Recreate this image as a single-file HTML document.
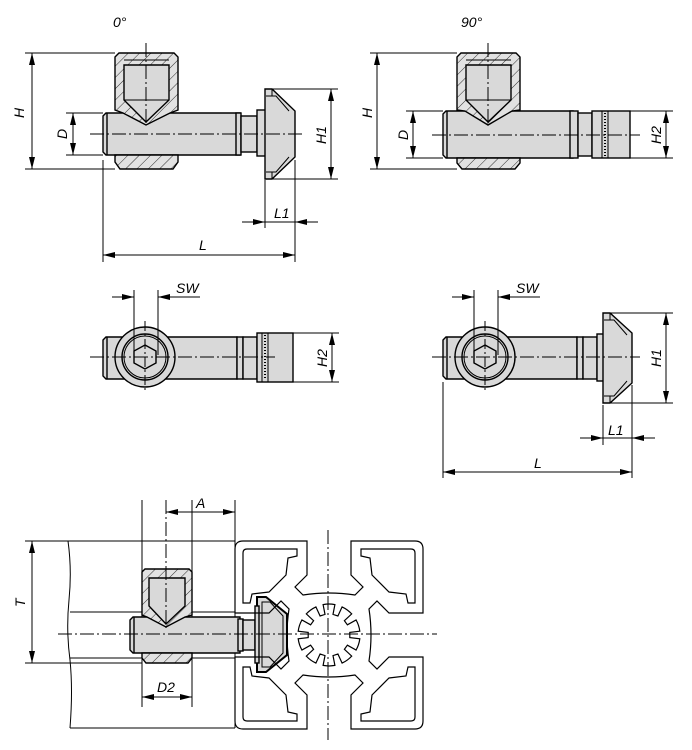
<!DOCTYPE html>
<html><head><meta charset="utf-8">
<style>
html,body{margin:0;padding:0;background:#fff;}
svg{display:block;}
text{font-family:"Liberation Sans",sans-serif;font-style:italic;font-size:14px;fill:#000;}
</style></head><body>
<svg width="692" height="750" viewBox="0 0 692 750" xmlns="http://www.w3.org/2000/svg">
<defs>
<marker id="a" viewBox="0 0 12 6" refX="12" refY="3" markerWidth="12" markerHeight="6" orient="auto-start-reverse" markerUnits="userSpaceOnUse"><path d="M0,0 L12,3 L0,6 z" fill="#000"/></marker>
<pattern id="h" width="8" height="8" patternUnits="userSpaceOnUse" patternTransform="rotate(45)"><rect width="8" height="8" fill="#e2e2e2"/><line x1="0" y1="0" x2="0" y2="8" stroke="#000" stroke-width="0.8"/></pattern>
</defs>
<g fill="none" stroke="#000" stroke-width="1">

<!-- ===== VIEW 1 (0°) ===== -->
<g stroke-width="1.4">
<path d="M103,116 L106,113 L240,113 L240,155 L106,155 L103,152 Z" fill="#d9d9d9"/>
<line x1="107" y1="113" x2="107" y2="155"/>
<rect x="236" y="113" width="5" height="42" fill="#d9d9d9"/>
<rect x="241" y="116" width="16" height="36" fill="#d9d9d9"/>
<rect x="257" y="110" width="9" height="46" fill="#d9d9d9"/>
<path d="M265,89 L272,89 L295,111 L295,157 L272,179 L265,179 Z" fill="#d9d9d9"/>
<path d="M272,89 L272,96 M272,172 L272,179 M266,96 L276,96 L289,111 M266,172 L276,172 L289,157" stroke-width="1"/>
<path d="M115,57 L119,53 L174,53 L178,57 L178,110 L170,113 L146,125 L123,113 L115,110 Z" fill="url(#h)"/>
<path d="M124,65 L169,65 L169,100 L146,122 L124,100 Z" fill="#d9d9d9"/>
<path d="M124,60 L169,60 M124,100 L169,100" stroke-width="1"/>
<path d="M115,155 L178,155 L178,162 L173,169 L120,169 L115,162 Z" fill="url(#h)"/>
</g>
<path d="M90,134 L305,134" stroke-dasharray="14,3,2,3"/>
<path d="M146,43 L146,125" stroke-dasharray="14,3,2,3"/>
<path d="M25,53 L115,53 M25,169 L115,169"/>
<line x1="32" y1="53" x2="32" y2="169" marker-start="url(#a)" marker-end="url(#a)"/>
<path d="M66,113 L103,113 M66,155 L103,155"/>
<line x1="73" y1="113" x2="73" y2="155" marker-start="url(#a)" marker-end="url(#a)"/>
<path d="M272,89 L338,89 M272,179 L338,179"/>
<line x1="331" y1="89" x2="331" y2="179" marker-start="url(#a)" marker-end="url(#a)"/>
<path d="M103,160 L103,262 M265,180 L265,228 M295,160 L295,262"/>
<line x1="242" y1="222" x2="265" y2="222" marker-end="url(#a)"/>
<line x1="318" y1="222" x2="295" y2="222" marker-end="url(#a)"/>
<line x1="265" y1="222" x2="295" y2="222"/>
<line x1="103" y1="255" x2="295" y2="255" marker-start="url(#a)" marker-end="url(#a)"/>

<!-- ===== VIEW 2 (90°) ===== -->
<g stroke-width="1.4">
<path d="M443,114 L446,111 L573,111 L573,158 L446,158 L443,155 Z" fill="#d9d9d9"/>
<line x1="447" y1="111" x2="447" y2="158"/>
<rect x="570" y="111" width="8" height="47" fill="#d9d9d9"/>
<rect x="578" y="113" width="14" height="43" fill="#d9d9d9"/>
<rect x="592" y="111" width="38" height="47" fill="#d9d9d9"/>
<path d="M602,111 L602,158 M608,111 L608,158" stroke-width="1"/>
<path d="M605,113 L605,156" stroke-dasharray="1,2" stroke-width="2"/>
<path d="M457,57 L461,53 L516,53 L520,57 L520,110 L512,111 L488,125 L465,111 L457,110 Z" fill="url(#h)"/>
<path d="M466,65 L511,65 L511,100 L488,122 L466,100 Z" fill="#d9d9d9"/>
<path d="M466,60 L511,60 M466,100 L511,100" stroke-width="1"/>
<path d="M457,158 L520,158 L520,163 L515,169 L462,169 L457,163 Z" fill="url(#h)"/>
</g>
<path d="M432,135 L640,135" stroke-dasharray="14,3,2,3"/>
<path d="M488,43 L488,125" stroke-dasharray="14,3,2,3"/>
<path d="M370,53 L457,53 M370,169 L457,169"/>
<line x1="377" y1="53" x2="377" y2="169" marker-start="url(#a)" marker-end="url(#a)"/>
<path d="M406,111 L443,111 M406,158 L443,158"/>
<line x1="413" y1="111" x2="413" y2="158" marker-start="url(#a)" marker-end="url(#a)"/>
<path d="M630,111 L673,111 M630,158 L673,158"/>
<line x1="666" y1="111" x2="666" y2="158" marker-start="url(#a)" marker-end="url(#a)"/>

<!-- ===== VIEW 3 ===== -->
<g stroke-width="1.4">
<path d="M103,340 L106,337 L237,337 L237,379 L106,379 L103,376 Z" fill="#d9d9d9"/>
<line x1="107" y1="337" x2="107" y2="379"/>
<rect x="237" y="337" width="6" height="42" fill="#d9d9d9"/>
<rect x="243" y="337" width="14" height="42" fill="#d9d9d9"/>
<rect x="257" y="333" width="36" height="49" fill="#d9d9d9"/>
<path d="M262,333 L262,382 M268,333 L268,382" stroke-width="1"/>
<path d="M265,335 L265,380" stroke-dasharray="1,2" stroke-width="2"/>
<circle cx="145" cy="357" r="30" fill="#d9d9d9"/>
<circle cx="145" cy="357" r="23"/>
<circle cx="145" cy="357" r="21" stroke-width="1"/>
<path d="M145,345 L156,351 L156,363 L145,369 L134,363 L134,351 Z" fill="#d9d9d9"/>
</g>
<path d="M90,357 L275,357" stroke-dasharray="14,3,2,3"/>
<path d="M145,321 L145,393" stroke-dasharray="10,3,2,3"/>
<path d="M134,290 L134,355 M158,290 L158,355"/>
<line x1="112" y1="297" x2="134" y2="297" marker-end="url(#a)"/>
<line x1="180" y1="297" x2="158" y2="297" marker-end="url(#a)"/>
<line x1="158" y1="297" x2="200" y2="297"/>
<path d="M293,333 L339,333 M293,382 L339,382"/>
<line x1="332" y1="333" x2="332" y2="382" marker-start="url(#a)" marker-end="url(#a)"/>

<!-- ===== VIEW 4 ===== -->
<g stroke-width="1.4">
<path d="M443,340 L446,337 L577,337 L577,379 L446,379 L443,376 Z" fill="#d9d9d9"/>
<line x1="447" y1="337" x2="447" y2="379"/>
<rect x="577" y="337" width="6" height="42" fill="#d9d9d9"/>
<rect x="583" y="337" width="14" height="42" fill="#d9d9d9"/>
<rect x="597" y="334" width="7" height="47" fill="#d9d9d9"/>
<path d="M603,313 L610,313 L632,333 L632,383 L610,403 L603,403 Z" fill="#d9d9d9"/>
<path d="M610,313 L610,320 M610,396 L610,403 M604,320 L614,320 L627,335 M604,396 L614,396 L627,381" stroke-width="1"/>
<circle cx="485" cy="357" r="30" fill="#d9d9d9"/>
<circle cx="485" cy="357" r="23"/>
<circle cx="485" cy="357" r="21" stroke-width="1"/>
<path d="M485,345 L496,351 L496,363 L485,369 L474,363 L474,351 Z" fill="#d9d9d9"/>
</g>
<path d="M432,357 L640,357" stroke-dasharray="14,3,2,3"/>
<path d="M485,321 L485,393" stroke-dasharray="10,3,2,3"/>
<path d="M474,290 L474,355 M498,290 L498,355"/>
<line x1="452" y1="297" x2="474" y2="297" marker-end="url(#a)"/>
<line x1="520" y1="297" x2="498" y2="297" marker-end="url(#a)"/>
<line x1="498" y1="297" x2="540" y2="297"/>
<path d="M610,313 L673,313 M610,403 L673,403"/>
<line x1="666" y1="313" x2="666" y2="403" marker-start="url(#a)" marker-end="url(#a)"/>
<path d="M443,382 L443,478 M603,405 L603,445 M632,385 L632,478"/>
<line x1="580" y1="438" x2="603" y2="438" marker-end="url(#a)"/>
<line x1="655" y1="438" x2="632" y2="438" marker-end="url(#a)"/>
<line x1="603" y1="438" x2="632" y2="438"/>
<line x1="443" y1="472" x2="632" y2="472" marker-start="url(#a)" marker-end="url(#a)"/>

<!-- ===== VIEW 5 ===== -->
<path d="M68,541 L235,541 M70,728 L235,728 M235,541 L235,728 M70,612 L235,612 M70,658 L235,658"/>
<path d="M68,541 Q72,570 69,600 Q66,630 70,660 Q73,690 70,728"/>
<path d="M142,500 L142,707 M192,500 L192,707 M235,500 L235,541"/>
<path d="M25,541 L68,541 M25,663 L142,663"/>
<line x1="32" y1="541" x2="32" y2="663" marker-start="url(#a)" marker-end="url(#a)"/>
<line x1="166" y1="512" x2="235" y2="512" marker-start="url(#a)" marker-end="url(#a)"/>
<line x1="142" y1="697" x2="192" y2="697" marker-start="url(#a)" marker-end="url(#a)"/>
<g stroke-width="1.4">
<path d="M130,620 L133,617 L240,617 L240,653 L133,653 L130,650 Z" fill="#d9d9d9"/>
<line x1="134" y1="617" x2="134" y2="653"/>
<rect x="238" y="619" width="5" height="32" fill="#d9d9d9"/>
<rect x="243" y="620" width="12" height="30" fill="#d9d9d9"/>
<path d="M142,572 L145,569 L189,569 L192,572 L192,615 L185,617 L166,627 L147,617 L142,615 Z" fill="url(#h)"/>
<path d="M149,578 L185,578 L185,606 L166,624 L149,606 Z" fill="#d9d9d9"/>
<path d="M142,653 L192,653 L192,658 L188,663 L146,663 L142,658 Z" fill="url(#h)"/>
<path d="M257,597 L266,597 L287,614 L287,655 L266,672 L257,672 Z" fill="#d9d9d9" stroke-width="2"/>
<path d="M262,602 L270,602 L283,616 L283,653 L270,667 L262,667 Z" stroke-width="1"/>
<rect x="255" y="606" width="4" height="57" fill="#d9d9d9"/>
</g>
<g transform="translate(235,541)" stroke-width="1.2">
<path d="M0,8 Q0,0 8,0 L72,0 L72,34 L60,46 L68,54 Q94,50 120,54 L128,46 L116,34 L116,0 L180,0 Q188,0 188,8 L188,72 L154,72 L142,60 L134,68 Q138,94 134,120 L142,128 L154,116 L188,116 L188,180 Q188,188 180,188 L116,188 L116,154 L128,142 L120,134 Q94,138 68,134 L60,142 L72,154 L72,188 L8,188 Q0,188 0,180 L0,116 L34,116 L46,128 L54,120 Q50,94 54,68 L46,60 L34,72 L0,72 Z"/>
<path d="M8,12 Q8,8 12,8 L62,8 L62,15 L53,17 L51,34 L34,51 L17,53 L15,62 L8,62 Z"/>
<path d="M180,12 Q180,8 176,8 L126,8 L126,15 L135,17 L137,34 L154,51 L171,53 L173,62 L180,62 Z"/>
<path d="M8,176 Q8,180 12,180 L62,180 L62,173 L53,171 L51,154 L34,137 L17,135 L15,126 L8,126 Z"/>
<path d="M180,176 Q180,180 176,180 L126,180 L126,173 L135,171 L137,154 L154,137 L171,135 L173,126 L180,126 Z"/>
<path d="M124.8,90.2 L114.8,91.4 L114.8,96.6 L124.8,97.8 A31,31 0 0 1 121.1,109.0 L112.4,104.2 L109.4,108.3 L116.7,115.1 A31,31 0 0 1 107.1,122.1 L102.9,113.0 L98.0,114.6 L99.9,124.4 A31,31 0 0 1 88.1,124.4 L90.0,114.6 L85.1,113.0 L80.9,122.1 A31,31 0 0 1 71.3,115.1 L78.6,108.3 L75.6,104.2 L66.9,109.0 A31,31 0 0 1 63.2,97.8 L73.2,96.6 L73.2,91.4 L63.2,90.2 A31,31 0 0 1 66.9,79.0 L75.6,83.8 L78.6,79.7 L71.3,72.9 A31,31 0 0 1 80.9,65.9 L85.1,75.0 L90.0,73.4 L88.1,63.6 A31,31 0 0 1 99.9,63.6 L98.0,73.4 L102.9,75.0 L107.1,65.9 A31,31 0 0 1 116.7,72.9 L109.4,79.7 L112.4,83.8 L121.1,79.0 A31,31 0 0 1 124.8,90.2 Z"/>
</g>
<path d="M328,530 L328,740" stroke-dasharray="14,3,2,3"/>
<path d="M58,634 L437,634" stroke-dasharray="14,3,2,3"/>
<path d="M166,500 L166,628" stroke-dasharray="14,3,2,3"/>
</g>

<text x="113" y="27">0°</text>
<text x="461" y="27">90°</text>
<text transform="translate(24,118) rotate(-90)">H</text>
<text transform="translate(67,139) rotate(-90)">D</text>
<text transform="translate(326,144) rotate(-90)">H1</text>
<text x="274" y="218">L1</text>
<text x="199" y="250">L</text>
<text transform="translate(372,118) rotate(-90)">H</text>
<text transform="translate(408,140) rotate(-90)">D</text>
<text transform="translate(661,144) rotate(-90)">H2</text>
<text x="176" y="293">SW</text>
<text transform="translate(327,367) rotate(-90)">H2</text>
<text x="516" y="293">SW</text>
<text transform="translate(661,367) rotate(-90)">H1</text>
<text x="608" y="435">L1</text>
<text x="534" y="468">L</text>
<text x="196" y="508">A</text>
<text transform="translate(25,607) rotate(-90)">T</text>
<text x="157" y="692">D2</text>
</svg>
</body></html>
